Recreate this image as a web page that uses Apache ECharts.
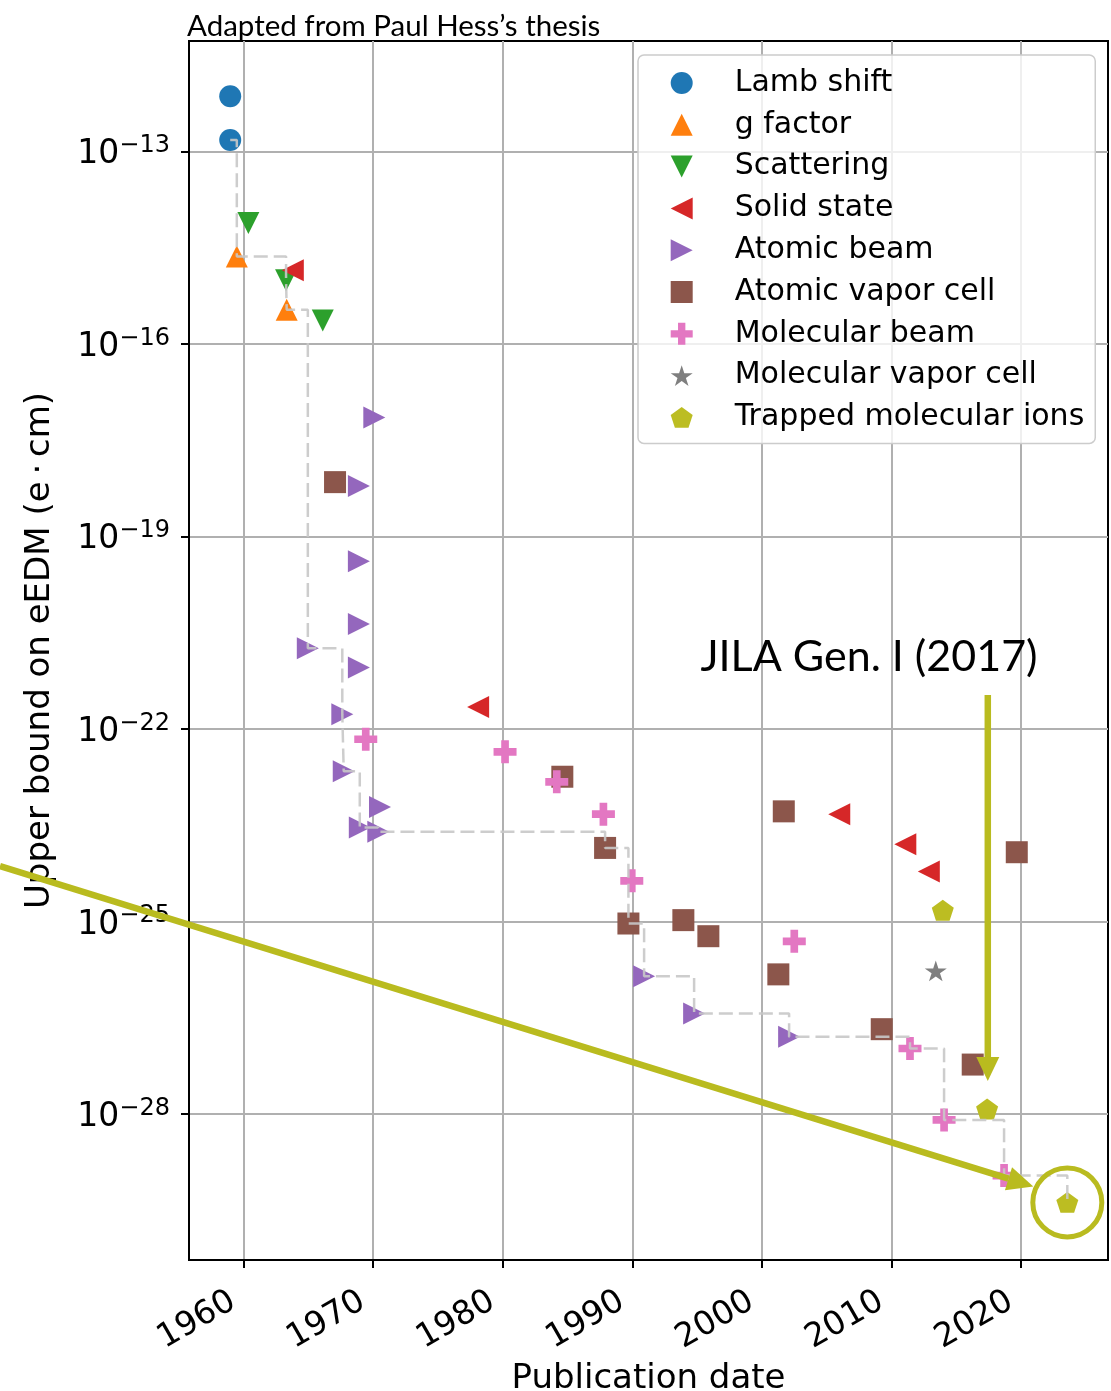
<!DOCTYPE html>
<html>
<head>
<meta charset="utf-8">
<script src="https://cdn.jsdelivr.net/npm/echarts@6/dist/echarts.min.js"></script>
<style>
  html, body { margin: 0; padding: 0; background: #ffffff; }
  #chart { width: 1111px; height: 1391px; }
</style>
</head>
<body>
<div id="chart"></div>
<script>
// Axis ticks
const xTicks = [1960, 1970, 1980, 1990, 2000, 2010, 2020];
const yTicks = [1e-28, 1e-25, 1e-22, 1e-19, 1e-16, 1e-13];

// Upper bounds on the electron EDM (e·cm) by publication date, per technique
const lambYears = [1958.97, 1958.97];
const lambBounds = [7.2e-13, 1.5e-13];

const gFactorYears = [1959.48, 1963.33];
const gFactorBounds = [2.3e-15, 3.4e-16];

const scatteringYears = [1960.37, 1963.28, 1966.11];
const scatteringBounds = [7.6e-15, 9.8e-16, 2.3e-16];

const solidYears = [1963.8, 1978.1, 2005.97, 2011.07, 2012.88];
const solidBounds = [1.4e-15, 2.2e-22, 4.7e-24, 1.6e-24, 6.0e-25];

const atomicBeamYears = [1964.96, 1967.62, 1967.73, 1968.9, 1968.9, 1968.9, 1968.9, 1968.97, 1970.09, 1970.4, 1970.53, 1990.91, 1994.77, 2002.1];
const atomicBeamBounds = [1.8e-21, 1.7e-22, 2.2e-23, 6.1e-19, 4.1e-20, 4.3e-21, 9.1e-22, 2.9e-24, 7.1e-18, 2.5e-24, 6.1e-24, 1.4e-26, 3.7e-27, 1.6e-27];

const atomicVaporYears = [1967.06, 1984.6, 1987.9, 1989.7, 1993.94, 1995.87, 2001.27, 2001.69, 2009.25, 2016.27, 2019.67];
const atomicVaporBounds = [7.0e-19, 1.8e-23, 1.4e-24, 9.3e-26, 1.05e-25, 5.9e-26, 1.5e-26, 5.2e-24, 2.1e-27, 5.9e-28, 1.2e-24];

const molBeamYears = [1969.43, 1980.18, 1984.17, 1987.77, 1989.96, 2002.5, 2011.43, 2014.06, 2018.69];
const molBeamBounds = [6.9e-23, 4.4e-23, 1.5e-23, 4.7e-24, 4.3e-25, 4.9e-26, 1.05e-27, 8.1e-29, 1.1e-29];

const molVaporYears = [2013.42];
const molVaporBounds = [1.7e-26];

const trappedIonYears = [2013.96, 2017.38, 2023.57];
const trappedIonBounds = [1.5e-25, 1.2e-28, 4.2e-30];

// Marker outlines
function polygonPath(n, inner) {
  const pts = [];
  const steps = inner ? n * 2 : n;
  for (let k = 0; k < steps; k++) {
    const a = -Math.PI / 2 + k * Math.PI * 2 / steps;
    const r = inner && k % 2 === 1 ? inner : 1;
    pts.push((r * Math.cos(a)).toFixed(4) + ',' + (r * Math.sin(a)).toFixed(4));
  }
  return 'path://M' + pts.join('L') + 'Z';
}
const triUp = 'path://M1,0L2,2L0,2Z';
const triDown = 'path://M0,0L2,0L1,2Z';
const triLeft = 'path://M0,1L2,0L2,2Z';
const triRight = 'path://M0,0L2,1L0,2Z';
const plusPath = 'path://M1,0H2V1H3V2H2V3H1V2H0V1H1Z';
const starPath = polygonPath(5, 0.382);
const pentagonPath = polygonPath(5);

const groups = [
  { name: 'Lamb shift', years: lambYears, bounds: lambBounds, color: '#1f77b4', symbol: 'circle', size: 22 },
  { name: 'g factor', years: gFactorYears, bounds: gFactorBounds, color: '#ff7f0e', symbol: triUp, size: 22 },
  { name: 'Scattering', years: scatteringYears, bounds: scatteringBounds, color: '#2ca02c', symbol: triDown, size: 22 },
  { name: 'Solid state', years: solidYears, bounds: solidBounds, color: '#d62728', symbol: triLeft, size: 22 },
  { name: 'Atomic beam', years: atomicBeamYears, bounds: atomicBeamBounds, color: '#9467bd', symbol: triRight, size: 22 },
  { name: 'Atomic vapor cell', years: atomicVaporYears, bounds: atomicVaporBounds, color: '#8c564b', symbol: 'rect', size: 22 },
  { name: 'Molecular beam', years: molBeamYears, bounds: molBeamBounds, color: '#e377c2', symbol: plusPath, size: 23 },
  { name: 'Molecular vapor cell', years: molVaporYears, bounds: molVaporBounds, color: '#7f7f7f', symbol: starPath, size: 22 },
  { name: 'Trapped molecular ions', years: trappedIonYears, bounds: trappedIonBounds, color: '#bcbd22', symbol: pentagonPath, size: 22 }
];

// Best bound so far: running minimum over all results in date order
const allPoints = [];
groups.forEach(g => g.years.forEach((y, i) => allPoints.push([y, g.bounds[i]])));
allPoints.sort((a, b) => a[0] - b[0] || a[1] - b[1]);
const recordPoints = [];
allPoints.forEach(p => {
  if (!recordPoints.length || p[1] < recordPoints[recordPoints.length - 1][1]) recordPoints.push(p);
});

const mainFont = 'DejaVu Sans';
const olive = '#b9bb1f';

const chart = echarts.init(document.getElementById('chart'), null, { renderer: 'canvas' });

const scatterSeries = groups.map(g => ({
  name: g.name,
  type: 'scatter',
  data: g.years.map((y, i) => [y, g.bounds[i]]),
  symbol: g.symbol,
  symbolSize: g.size,
  symbolKeepAspect: true,
  itemStyle: { color: g.color, opacity: 1 },
  emphasis: { disabled: true },
  z: 3
}));

chart.setOption({
  animation: false,
  backgroundColor: '#ffffff',
  grid: {
    left: 189, right: 3, top: 41, bottom: 131,
    show: true, borderColor: '#000000', borderWidth: 2,
    containLabel: false, outerBoundsMode: 'none'
  },
  legend: {
    orient: 'vertical',
    left: 638, top: 55,
    padding: [12, 11, 10, 32.7],
    itemWidth: 22, itemHeight: 22, itemGap: 9.8,
    backgroundColor: 'rgba(255,255,255,0.8)',
    borderColor: '#cccccc', borderWidth: 1.5, borderRadius: 6,
    textStyle: { fontFamily: mainFont, fontSize: 30, color: '#000', lineHeight: 32, padding: [0, 0, 0, 37] },
    data: groups.map(g => ({ name: g.name, icon: g.symbol })),
    selectedMode: false
  },
  xAxis: {
    type: 'value',
    min: 1955.79, max: 2026.71,
    name: 'Publication date',
    nameLocation: 'middle',
    nameGap: 98,
    nameTextStyle: { fontFamily: mainFont, fontSize: 34, color: '#000' },
    axisLine: { show: true, onZero: false, lineStyle: { color: '#000', width: 2 } },
    axisTick: { show: true, inside: false, length: 8, lineStyle: { color: '#000', width: 2 }, customValues: xTicks },
    axisLabel: {
      customValues: xTicks, rotate: 30, margin: 33,
      padding: [0, 12, 0, 0],
      fontFamily: mainFont, fontSize: 33, color: '#000',
      formatter: v => String(v)
    },
    splitLine: { show: true, lineStyle: { color: '#b0b0b0', width: 2 } }
  },
  yAxis: {
    type: 'log',
    logBase: 10,
    min: Math.pow(10, -30.274), max: Math.pow(10, -11.282),
    name: 'Upper bound on eEDM (e\u2009·\u2009cm)',
    nameLocation: 'middle',
    nameGap: 132,
    nameRotate: 90,
    nameTextStyle: { fontFamily: mainFont, fontSize: 34, color: '#000' },
    axisLine: { show: true, lineStyle: { color: '#000', width: 2 } },
    axisTick: { show: true, inside: false, length: 8, lineStyle: { color: '#000', width: 2 }, customValues: yTicks },
    axisLabel: {
      customValues: yTicks,
      margin: 19,
      padding: [7, 0, 0, 0],
      formatter: v => '{b|10}{s|\u2212' + Math.round(-Math.log10(v)) + '}',
      rich: {
        b: { fontFamily: mainFont, fontSize: 33, color: '#000', lineHeight: 38 },
        s: { fontFamily: mainFont, fontSize: 24, color: '#000', lineHeight: 38, padding: [0, 0, 18, 0] }
      }
    },
    splitLine: { show: true, lineStyle: { color: '#b0b0b0', width: 2 } }
  },
  series: scatterSeries.concat([{
    name: 'best bound',
    type: 'line',
    step: 'end',
    data: recordPoints,
    showSymbol: false,
    symbol: 'none',
    lineStyle: { color: 'rgba(200,200,200,0.9)', width: 2.5, type: [14, 6] },
    emphasis: { disabled: true },
    silent: true,
    z: 4
  }])
});

// Annotations anchored to the plotted results
function px(year, bound) {
  return chart.convertToPixel({ xAxisIndex: 0, yAxisIndex: 0 }, [year, bound]);
}
function arrowHead(tip, from, len, halfW) {
  const dx = tip[0] - from[0], dy = tip[1] - from[1];
  const d = Math.hypot(dx, dy);
  const ux = dx / d, uy = dy / d;
  const bx = tip[0] - ux * len, by = tip[1] - uy * len;
  return {
    base: [bx, by],
    points: [tip, [bx - uy * halfW, by + ux * halfW], [bx + uy * halfW, by - ux * halfW]]
  };
}

const gen1 = px(trappedIonYears[1], trappedIonBounds[1]);
const latest = px(trappedIonYears[2], trappedIonBounds[2]);

const gen1Tip = [gen1[0] + 0.7, gen1[1] - 28];
const gen1Top = [gen1Tip[0], 695];
const gen1Head = arrowHead(gen1Tip, gen1Top, 24, 11.5);

const latestTip = [latest[0] - 34, latest[1] - 16];
const slope = 0.31;
const latestStart = [0, latestTip[1] - slope * latestTip[0]];
const latestHead = arrowHead(latestTip, latestStart, 26, 12);

chart.setOption({
  graphic: [
    {
      type: 'text', left: 187, top: 11,
      style: { text: 'Adapted from Paul Hess\u2019s thesis', font: '29.5px Lato', fill: '#000' },
      z: 10
    },
    {
      type: 'text', x: 869, y: 657,
      style: { text: 'JILA Gen. I (2017)', font: '43px Lato', fill: '#000', align: 'center', verticalAlign: 'middle' },
      z: 10
    },
    {
      type: 'line',
      shape: { x1: gen1Top[0], y1: gen1Top[1], x2: gen1Head.base[0], y2: gen1Head.base[1] },
      style: { stroke: olive, lineWidth: 6.5 },
      z: 10
    },
    { type: 'polygon', shape: { points: gen1Head.points }, style: { fill: olive }, z: 10 },
    {
      type: 'line',
      shape: { x1: latestStart[0], y1: latestStart[1], x2: latestHead.base[0], y2: latestHead.base[1] },
      style: { stroke: olive, lineWidth: 6.5 },
      z: 10
    },
    { type: 'polygon', shape: { points: latestHead.points }, style: { fill: olive }, z: 10 },
    {
      type: 'circle',
      shape: { cx: latest[0], cy: latest[1], r: 34.5 },
      style: { fill: 'none', stroke: olive, lineWidth: 5 },
      z: 10
    }
  ]
});
</script>
</body>
</html>
